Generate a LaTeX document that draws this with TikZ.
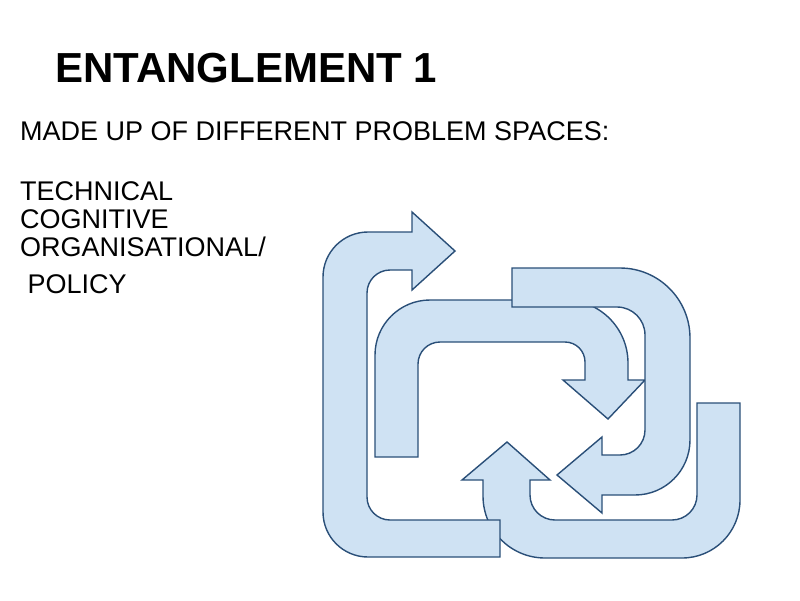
\documentclass[tikz,border=0pt]{standalone}
\usepackage{fontspec}
\setmainfont{Liberation Sans}
\definecolor{afill}{HTML}{CFE2F3}
\definecolor{aline}{HTML}{2A4F78}
\begin{document}
\begin{tikzpicture}[x=1pt,y=-1pt,
  arr/.style={fill=afill,draw=aline,line width=1.4pt,line join=miter},
  txt/.style={anchor=base west,inner sep=0pt,font=\fontsize{27}{32}\selectfont}]
\useasboundingbox (0,0) rectangle (800,600);
% arrow 2
\path[arr] (375,457) -- (375,355) arc[start angle=180,end angle=270,radius=55] -- (565,300)
  arc[start angle=-90,end angle=0,radius=63] -- (628,380) -- (645,380) -- (608,419) -- (563,380) -- (585,380)
  -- (585,362) arc[start angle=0,end angle=-90,radius=20] -- (440,342)
  arc[start angle=270,end angle=180,radius=22] -- (418,457) -- cycle;
% arrow 3
\path[arr] (512,268) -- (620,268) arc[start angle=-90,end angle=0,radius=70] -- (690,440)
  arc[start angle=0,end angle=90,radius=55] -- (602,495) -- (602,513) -- (557,475) -- (602,437) -- (602,455)
  -- (620,455) arc[start angle=90,end angle=0,radius=25] -- (645,335)
  arc[start angle=0,end angle=-90,radius=28] -- (512,307) -- cycle;
% arrow 4
\path[arr] (740,403) -- (740,500) arc[start angle=0,end angle=90,radius=58] -- (545,558)
  arc[start angle=90,end angle=180,radius=62] -- (483,480) -- (462,480) -- (507,442) -- (550,480) -- (530,480)
  -- (530,495) arc[start angle=180,end angle=90,radius=25] -- (672,520)
  arc[start angle=90,end angle=0,radius=25] -- (697,403) -- cycle;
% arrow 1
\path[arr] (500,557) -- (368,557) arc[start angle=90,end angle=180,radius=45] -- (323,277)
  arc[start angle=180,end angle=270,radius=45] -- (412,232) -- (412,212) -- (455,251) -- (412,290) -- (412,270)
  -- (390,270) arc[start angle=270,end angle=180,radius=23] -- (367,497)
  arc[start angle=180,end angle=90,radius=23] -- (500,520) -- cycle;
\node[txt,font=\fontsize{42}{48}\selectfont\bfseries] (title) at (55,82) {ENTANGLEMENT 1};
\node[txt] (l1) at (20,140) {MADE UP OF DIFFERENT PROBLEM SPACES:};
\node[txt] (l2) at (20,200) {TECHNICAL};
\node[txt] (l3) at (20,228) {COGNITIVE};
\node[txt] (l4) at (20,256) {ORGANISATIONAL/};
\node[txt] (l5) at (20,293) {\ POLICY};
\end{tikzpicture}
\end{document}
